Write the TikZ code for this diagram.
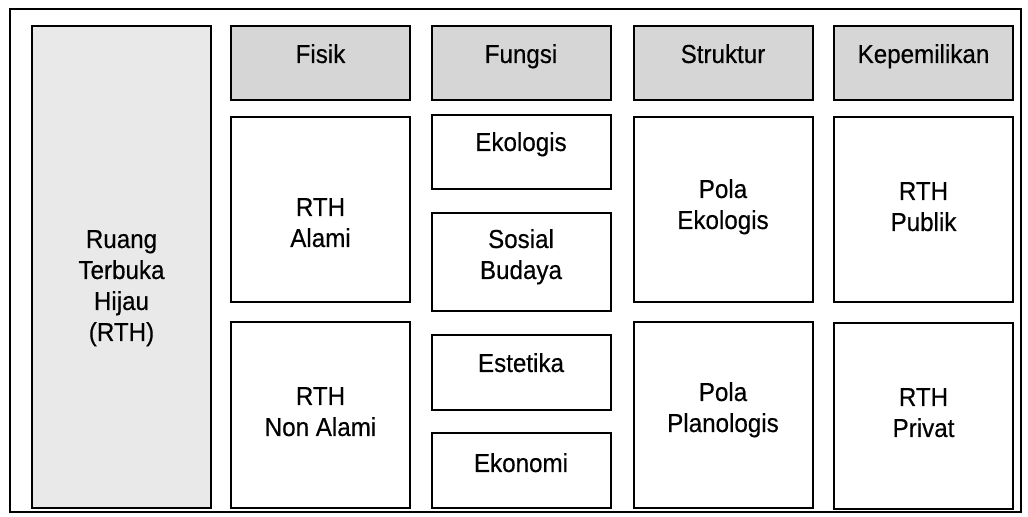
\documentclass[tikz,border=0pt]{standalone}
\usepackage{fontspec}
\setmainfont{Liberation Sans}[FakeStretch=0.93]
\newfontfamily\boxfont{Liberation Sans}[FakeStretch=0.93, FakeBold=0.4]
\usepackage{tikz}
\usetikzlibrary{positioning}

\definecolor{hdrgray}{HTML}{D6D6D6}
\definecolor{sidegray}{HTML}{E9E9E9}

\tikzset{
    box/.style={draw, line width=1pt, rectangle, inner sep=0pt, minimum width=89.5pt},
    hdr/.style={box, fill=hdrgray, minimum height=37pt},
    txt/.style={align=center, inner sep=0pt, anchor=base, font=\boxfont\fontsize{13pt}{15.5pt}\selectfont}
}

\begin{document}
\begin{tikzpicture}[x=0.5pt, y=-0.5pt]
    \useasboundingbox (0,0) rectangle (1028,517);
    \draw[line width=1pt] (10,9) rectangle (1021,512);

    % RTH
    \node[box, fill=sidegray, minimum height=241pt] (rth) at (121.5,267) {};
    \node[txt] (rth-t) at (121.5,341) {Ruang\\Terbuka\\Hijau\\(RTH)};

    % Headers
    \node[hdr] (fisik) at (320.5,63) {};
    \node[txt] (fisik-t) at (320.5,63) {Fisik};
    \node[hdr] (fungsi) at (521,63) {};
    \node[txt] (fungsi-t) at (521,63) {Fungsi};
    \node[hdr] (struktur) at (723,63) {};
    \node[txt] (struktur-t) at (723,63) {Struktur};
    \node[hdr] (milik) at (923.5,63) {};
    \node[txt] (milik-t) at (923.5,63) {Kepemilikan};

    % Fisik
    \node[box, minimum height=92.5pt] (alami) at (320.5,209.5) {};
    \node[txt] (alami-t) at (320.5,247) {RTH\\Alami};
    \node[box, minimum height=93pt] (nonalami) at (320.5,415) {};
    \node[txt] (nonalami-t) at (320.5,436) {RTH\\Non Alami};

    % Fungsi
    \node[box, minimum height=37pt] (ekologis) at (521,152) {};
    \node[txt] (ekologis-t) at (521,151) {Ekologis};
    \node[box, minimum height=49pt] (sosial) at (521,262) {};
    \node[txt] (sosial-t) at (521,279) {Sosial\\Budaya};
    \node[box, minimum height=37.5pt] (estetika) at (521,372.5) {};
    \node[txt] (estetika-t) at (521,372) {Estetika};
    \node[box, minimum height=37.5pt] (ekonomi) at (521,470.5) {};
    \node[txt] (ekonomi-t) at (521,472) {Ekonomi};

    % Struktur
    \node[box, minimum height=92.5pt] (polaeko) at (723,209.5) {};
    \node[txt] (polaeko-t) at (723,229) {Pola\\Ekologis};
    \node[box, minimum height=93pt] (polaplan) at (723,415) {};
    \node[txt] (polaplan-t) at (723,432) {Pola\\Planologis};

    % Kepemilikan
    \node[box, minimum height=92.5pt] (publik) at (923.5,210) {};
    \node[txt] (publik-t) at (923.5,231) {RTH\\Publik};
    \node[box, minimum height=93pt] (privat) at (923.5,416) {};
    \node[txt] (privat-t) at (923.5,437) {RTH\\Privat};
\end{tikzpicture}
\end{document}
